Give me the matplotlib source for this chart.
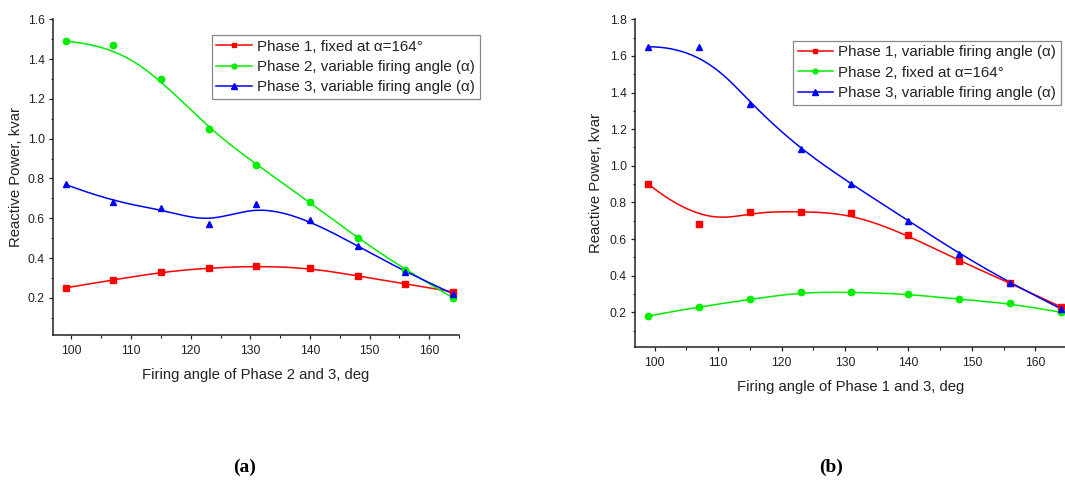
import numpy as np
import matplotlib
matplotlib.use("Agg")
import matplotlib.pyplot as plt
from matplotlib.ticker import MultipleLocator, FormatStrFormatter

plt.rcParams['font.family'] = ['Liberation Sans', 'DejaVu Sans']

# ---- data ----
angles = [99, 107, 115, 123, 131, 140, 148, 156, 164]

a_phase1 = [0.25, 0.29, 0.33, 0.35, 0.36, 0.35, 0.31, 0.27, 0.23]
a_phase2 = [1.49, 1.47, 1.30, 1.05, 0.87, 0.68, 0.50, 0.34, 0.20]
a_phase3 = [0.77, 0.68, 0.65, 0.57, 0.67, 0.59, 0.46, 0.33, 0.22]

b_phase1 = [0.90, 0.68, 0.75, 0.75, 0.74, 0.62, 0.48, 0.36, 0.23]
b_phase2 = [0.18, 0.23, 0.27, 0.31, 0.31, 0.30, 0.27, 0.25, 0.20]
b_phase3 = [1.65, 1.65, 1.34, 1.09, 0.90, 0.70, 0.52, 0.36, 0.22]

a_labels = ["Phase 1, fixed at \u03b1=164\u00b0",
            "Phase 2, variable firing angle (\u03b1)",
            "Phase 3, variable firing angle (\u03b1)"]
b_labels = ["Phase 1, variable firing angle (\u03b1)",
            "Phase 2, fixed at \u03b1=164\u00b0",
            "Phase 3, variable firing angle (\u03b1)"]

xlabel_a = "Firing angle of Phase 2 and 3, deg"
xlabel_b = "Firing angle of Phase 1 and 3, deg"
ylabel = "Reactive Power, kvar"

colors = ['#ff0000', '#00ee00', '#0000ff']
markers = ['s', 'o', '^']
msizes = [4.3, 4.6, 5.0]


def bspline(xs, ys, n=300, k=3):
    """Clamped cubic B-spline using the data points as control points
    (Origin's 'B-Spline' line connection)."""
    P = np.column_stack([xs, ys]).astype(float)
    m = len(P)
    knots = np.concatenate([[0] * k, np.arange(m - k + 1), [m - k] * k]).astype(float)
    t = np.linspace(0, m - k, n)
    t[-1] -= 1e-9
    N = np.zeros((n, len(knots) - 1))
    for i in range(len(knots) - 1):
        N[:, i] = (knots[i] <= t) & (t < knots[i + 1])
    for d in range(1, k + 1):
        Nn = np.zeros((n, len(knots) - 1 - d))
        for i in range(len(knots) - 1 - d):
            den1 = knots[i + d] - knots[i]
            den2 = knots[i + d + 1] - knots[i + 1]
            term = 0
            if den1 > 0:
                term = term + (t - knots[i]) / den1 * N[:, i]
            if den2 > 0:
                term = term + (knots[i + d + 1] - t) / den2 * N[:, i + 1]
            Nn[:, i] = term
        N = Nn
    C = N @ P
    return C[:, 0], C[:, 1]


fig = plt.figure(figsize=(10.65, 4.82), dpi=100)

W, H = 1065, 482
axA = fig.add_axes([53 / W, 1 - 335 / H, 406 / W, (335 - 19.3) / H])
axB = fig.add_axes([635 / W, 1 - 346.7 / H, 432 / W, (346.7 - 19.3) / H])


def draw(ax, series, labels, ylim, ymax_tick, xlabel, leg_anchor, xlab_y):
    handles = []
    for ys, c, mk, ms, lab in zip(series, colors, markers, msizes, labels):
        sx, sy = bspline(angles, ys)
        ax.plot(sx, sy, color=c, lw=1.1, zorder=2)
        ax.plot(angles, ys, linestyle='none', marker=mk, color=c, ms=ms,
                zorder=3, clip_on=False)
        h, = ax.plot([], [], color=c, lw=1.1, marker=mk, ms=ms * 0.75, label=lab)
        handles.append(h)
    ax.set_xlim(96.9, 165)
    ax.set_ylim(*ylim)
    ax.xaxis.set_major_locator(MultipleLocator(10))
    ax.xaxis.set_minor_locator(MultipleLocator(5))
    ax.yaxis.set_major_formatter(FormatStrFormatter('%.1f'))
    ax.set_yticks([v / 10 for v in range(2, int(round(ymax_tick * 10)) + 1, 2)])
    ax.yaxis.set_minor_locator(MultipleLocator(0.1))
    for s in ['top', 'right']:
        ax.spines[s].set_visible(False)
    for s in ['left', 'bottom']:
        ax.spines[s].set_linewidth(1.1)
        ax.spines[s].set_color('#222222')
    ax.tick_params(which='major', direction='out', length=2.9, width=0.9,
                   labelsize=8.7, colors='#222222')
    ax.tick_params(axis='y', which='major', pad=3)
    ax.tick_params(axis='x', which='major', pad=4.5)
    ax.tick_params(which='minor', direction='out', length=1.8, width=0.8,
                   colors='#222222')
    ax.set_xlabel(xlabel, fontsize=10.7, color='#222222')
    ax.xaxis.set_label_coords(0.5, xlab_y)
    ax.set_ylabel(ylabel, fontsize=10.7, color='#222222')
    ax.yaxis.set_label_coords(-0.075, 0.5)
    leg = fig.legend(handles=handles, loc='upper left', bbox_to_anchor=leg_anchor,
                     bbox_transform=fig.transFigure, fontsize=10.9,
                     frameon=True, fancybox=False, framealpha=1,
                     edgecolor='#888888', handlelength=2.35, handletextpad=0.35,
                     labelspacing=0.42, borderpad=0.3, borderaxespad=0)
    leg.get_frame().set_linewidth(0.9)
    for t in leg.get_texts():
        t.set_color('#222222')


draw(axA, [a_phase1, a_phase2, a_phase3], a_labels, (0.013, 1.6), 1.6,
     xlabel_a, (211.7 / W, 1 - 35 / H), -0.105)
draw(axB, [b_phase1, b_phase2, b_phase3], b_labels, (0.012, 1.8), 1.8,
     xlabel_b, (793 / W, 1 - 40.7 / H), -0.102)

fig.text(245 / W, 1 - 467 / H, "(a)", ha='center', va='center',
         fontsize=14, fontweight='bold', family=['Liberation Serif', 'DejaVu Serif'])
fig.text(831 / W, 1 - 467 / H, "(b)", ha='center', va='center',
         fontsize=14, fontweight='bold', family=['Liberation Serif', 'DejaVu Serif'])

fig.savefig("out.png", dpi=100)
